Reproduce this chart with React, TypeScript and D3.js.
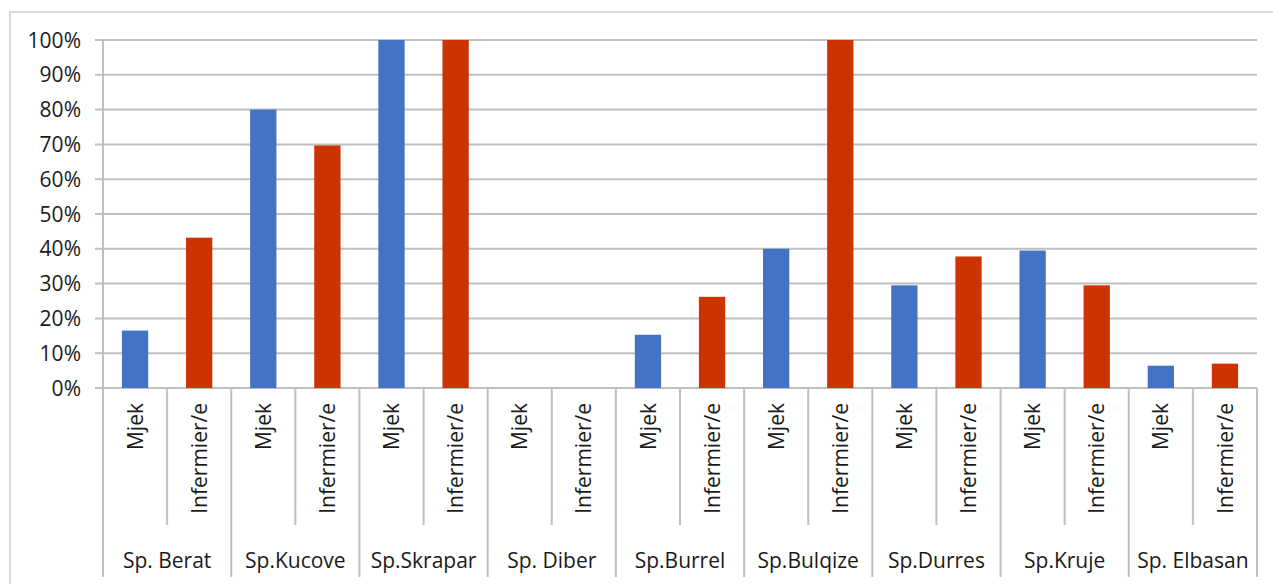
import React from "react";
import * as d3 from "d3";

const groups = ["Sp. Berat", "Sp.Kucove", "Sp.Skrapar", "Sp. Diber", "Sp.Burrel", "Sp.Bulqize", "Sp.Durres", "Sp.Kruje", "Sp. Elbasan"];
const roles = ["Mjek", "Infermier/e"];
const mjekValues = [16.5, 80, 100, 0, 15.3, 40, 29.5, 39.5, 6.4];
const infermierValues = [43.2, 69.7, 100, 0, 26.2, 100, 37.8, 29.5, 7];
const yTicks = [0, 10, 20, 30, 40, 50, 60, 70, 80, 90, 100];
const colors = ["#4472C4", "#CC3300"];

const W = 1273, H = 584;
const left = 103, right = 1257, top = 40, bottom = 388;
const font = "'Open Sans', sans-serif";

export default function App() {
  const slots = groups.flatMap((g, gi) => roles.map((r, ri) => ({ key: `${gi}-${ri}`, gi, ri, role: r, value: ri === 0 ? mjekValues[gi] : infermierValues[gi] })));
  const x = d3.scaleBand<string>().domain(slots.map(s => s.key)).range([left, right]).paddingInner(0.59).paddingOuter(0.295);
  const xs = d3.scaleBand<string>().domain(slots.map(s => s.key)).range([left, right]);
  const y = d3.scaleLinear().domain([0, 100]).range([bottom, top]);
  const slotW = xs.step();
  return (
    <svg width={W} height={H} style={{ position: "absolute", left: 0, top: 0, display: "block", background: "#fff" }}>
      <rect x={10} y={12} width={W + 10} height={H + 10} fill="none" stroke="#d9d9d9" strokeWidth={2} />
      {yTicks.map(t => (
        <g key={t}>
          <line x1={95} x2={right} y1={y(t)} y2={y(t)} stroke="#bfbfbf" strokeWidth={2} />
          <text x={81} y={y(t)} dy="0.36em" textAnchor="end" fontFamily={font} fontSize={21} fill="#1a1a1a">{t}%</text>
        </g>
      ))}
      <line x1={left} x2={left} y1={top} y2={577} stroke="#bfbfbf" strokeWidth={2} />
      {slots.map((s, i) => {
        const bx = left + slotW * (i + 1);
        const isGroup = (i + 1) % 2 === 0;
        return <line key={"sep" + i} x1={bx} x2={bx} y1={bottom} y2={isGroup ? 577 : 525} stroke="#bfbfbf" strokeWidth={2} />;
      })}
      {slots.map(s => s.value > 0 ? (
        <rect key={"bar" + s.key} x={x(s.key)} y={y(s.value)} width={x.bandwidth()} height={y(0) - y(s.value)} fill={colors[s.ri]} />
      ) : null)}
      {slots.map(s => {
        const cx = (xs(s.key) as number) + slotW / 2;
        return (
          <text key={"lab" + s.key} transform={`translate(${cx},403) rotate(-90)`} dy="0.36em" textAnchor="end" fontFamily={font} fontSize={21} fill="#1a1a1a">{s.role}</text>
        );
      })}
      {groups.map((g, gi) => {
        const cx = left + slotW * (gi * 2 + 1);
        return <text key={"g" + gi} x={cx} y={560} dy="0.36em" textAnchor="middle" fontFamily={font} fontSize={21} fill="#1a1a1a">{g}</text>;
      })}
    </svg>
  );
}
